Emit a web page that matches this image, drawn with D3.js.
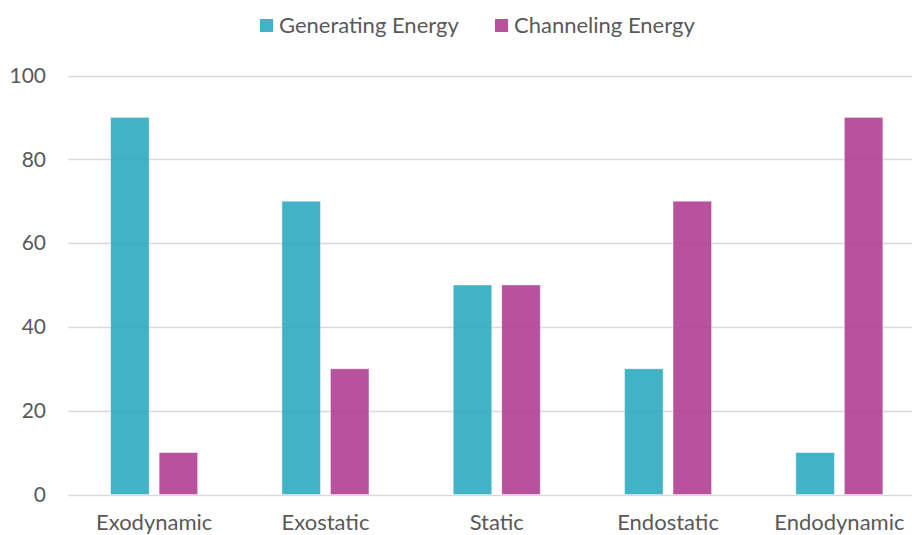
<!DOCTYPE html>
<html>
<head>
<meta charset="utf-8">
<script src="https://cdn.jsdelivr.net/npm/d3@7"></script>
<style>
  html, body { margin: 0; padding: 0; background: #fff; overflow: hidden; }
  svg { display: block; }
  text { font-family: Lato, "Open Sans", sans-serif; fill: #595959; }
</style>
</head>
<body>
<svg id="chart" width="912" height="535"></svg>
<script>
// Energy orientation profile per category
const categories = ["Exodynamic", "Exostatic", "Static", "Endostatic", "Endodynamic"];
const seriesNames = ["Generating Energy", "Channeling Energy"];
const generating = [90, 70, 50, 30, 10];
const channeling = [10, 30, 50, 70, 90];
const yTicks = [0, 20, 40, 60, 80, 100];
const colors = ["#2DAAC0", "#B03F93"];

const svg = d3.select("#chart");
const margin = { left: 68.5, right: -13, top: 75.5, bottom: 40.5 };
const width = 912, height = 535;

const x = d3.scaleBand()
  .domain(categories)
  .range([margin.left, width - margin.right])
  .paddingInner(0.492)
  .paddingOuter(0.246);

const y = d3.scaleLinear()
  .domain([0, 100])
  .range([height - margin.bottom, margin.top]);

const xSub = d3.scaleBand()
  .domain(seriesNames)
  .range([0, x.bandwidth()])
  .paddingInner(0.206);

// Horizontal gridlines
svg.append("g")
  .selectAll("line")
  .data(yTicks)
  .join("line")
  .attr("x1", margin.left)
  .attr("x2", width - margin.right)
  .attr("y1", d => Math.round(y(d)) + 0.5)
  .attr("y2", d => Math.round(y(d)) + 0.5)
  .attr("stroke", "#d9d9d9")
  .attr("stroke-width", 1.3);

// Y axis labels
const yAxis = d3.axisLeft(y).tickValues(yTicks).tickSize(0).tickPadding(0);
svg.append("g")
  .attr("transform", `translate(${46},0)`)
  .call(yAxis)
  .call(g => g.select(".domain").remove())
  .selectAll("text")
  .style("font-family", "Lato, 'Open Sans', sans-serif")
  .style("font-size", "21px")
  .attr("fill", "#595959");

// Bars
const rows = categories.map((c, i) => ({ cat: c, values: [generating[i], channeling[i]] }));
const groups = svg.append("g")
  .selectAll("g")
  .data(rows)
  .join("g")
  .attr("transform", d => `translate(${x(d.cat)},0)`);

groups.selectAll("rect")
  .data(d => d.values.map((v, j) => ({ name: seriesNames[j], value: v, j })))
  .join("rect")
  .attr("x", d => xSub(d.name))
  .attr("width", xSub.bandwidth())
  .attr("y", d => y(d.value))
  .attr("height", d => y(0) - y(d.value))
  .attr("fill", d => colors[d.j])
  .attr("fill-opacity", 0.9)
  .attr("stroke", "#ffffff")
  .attr("stroke-opacity", 0.5)
  .attr("stroke-width", 0.8);

// X axis labels
const xAxis = d3.axisBottom(x).tickSize(0).tickPadding(0);
svg.append("g")
  .attr("transform", `translate(0,${y(0)})`)
  .call(xAxis)
  .call(g => g.select(".domain").remove())
  .selectAll("text")
  .attr("dy", null)
  .attr("y", 35)
  .style("font-family", "Lato, 'Open Sans', sans-serif")
  .style("font-size", "22px")
  .attr("fill", "#595959");

// Legend
const legendItems = [
  { name: seriesNames[0], color: colors[0], x: 260 },
  { name: seriesNames[1], color: colors[1], x: 495 }
];
const legend = svg.append("g");
const li = legend.selectAll("g")
  .data(legendItems)
  .join("g")
  .attr("transform", d => `translate(${d.x},19)`);
li.append("rect")
  .attr("width", 13)
  .attr("height", 13)
  .attr("fill", d => d.color)
  .attr("fill-opacity", 0.9);
li.append("text")
  .attr("x", 19)
  .attr("y", 6.5)
  .attr("dy", "0.36em")
  .style("font-size", "22px")
  .text(d => d.name);
</script>
</body>
</html>
